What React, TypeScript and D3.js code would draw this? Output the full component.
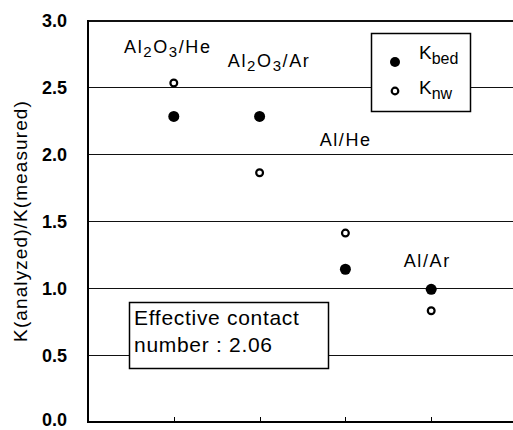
import * as d3 from "d3";

// category positions and labels
const categories = ["Al2O3/He", "Al2O3/Ar", "Al/He", "Al/Ar"];
const kBed = [2.28, 2.28, 1.14, 0.99];
const kNw = [2.53, 1.86, 1.41, 0.83];
const yTicks = [0, 0.5, 1.0, 1.5, 2.0, 2.5, 3.0];
const xTicks = [1, 2, 3, 4];

// label anchor (in data units) for each category label
const labelPos = [
  { x: 0.42, y: 2.755 },
  { x: 1.63, y: 2.65 },
  { x: 2.7, y: 2.06 },
  { x: 3.68, y: 1.16 },
];

const W = 513;
const H = 430;
const font = "'Liberation Sans', Arial, sans-serif";

function Chem({ name, x, y }: { name: string; x: number; y: number }) {
  // splits "Al2O3/He" into parts with subscript digits
  const parts = name.split(/(\d)/).filter((s) => s.length > 0);
  return (
    <text x={x} y={y} fontFamily={font} fontSize={18} letterSpacing={1.6} fill="#000">
      {parts.map((p, i) =>
        /\d/.test(p) ? (
          <tspan key={i} fontSize={15} dy={4}>
            {p}
          </tspan>
        ) : (
          <tspan key={i} dy={i > 0 && /\d/.test(parts[i - 1]) ? -4 : 0}>
            {p}
          </tspan>
        )
      )}
    </text>
  );
}

export default function App() {
  const x = d3.scaleLinear().domain([0, 5]).range([88, 517]);
  const y = d3.scaleLinear().domain([0, 3]).range([422, 20]);
  const crisp = (v: number) => Math.round(v) + 0.5;

  return (
    <svg
      width={W}
      height={H}
      style={{ position: "absolute", left: 0, top: 0, background: "#fff" }}
    >
      <rect x={0} y={0} width={W} height={H} fill="#fff" />
      {/* grid lines */}
      {yTicks.slice(1).map((t) => (
        <line
          key={t}
          x1={x(0)}
          x2={W}
          y1={crisp(y(t))}
          y2={crisp(y(t))}
          stroke="#111"
          strokeWidth={t === 3 ? 2 : 1}
          shapeRendering="crispEdges"
        />
      ))}
      {/* axes */}
      <line x1={x(0)} x2={W} y1={y(0)} y2={y(0)} stroke="#000" strokeWidth={2} shapeRendering="crispEdges" />
      <line x1={x(0)} x2={x(0)} y1={y(3)} y2={y(0) + 1} stroke="#000" strokeWidth={2} shapeRendering="crispEdges" />
      {xTicks.map((t) => (
        <line
          key={t}
          x1={crisp(x(t))}
          x2={crisp(x(t))}
          y1={y(0)}
          y2={y(0) - 5}
          stroke="#000"
          strokeWidth={1}
          shapeRendering="crispEdges"
        />
      ))}
      {yTicks.map((t) => (
        <text
          key={t}
          x={67}
          y={Math.min(y(t) + 1, 420)}
          dy="0.35em"
          textAnchor="end"
          fontFamily={font}
          fontSize={18}
          fontWeight="bold"
        >
          {t.toFixed(1)}
        </text>
      ))}
      <text
        transform={`translate(27,${221}) rotate(-90)`}
        textAnchor="middle"
        fontFamily={font}
        fontSize={19}
        letterSpacing={1.1}
      >
        K(analyzed)/K(measured)
      </text>

      {/* category labels */}
      {categories.map((c, i) => (
        <Chem key={c} name={c} x={x(labelPos[i].x)} y={y(labelPos[i].y)} />
      ))}

      {/* points */}
      {kBed.map((v, i) => (
        <circle key={"b" + i} cx={x(xTicks[i])} cy={y(v)} r={5.5} fill="#000" />
      ))}
      {kNw.map((v, i) => (
        <circle
          key={"n" + i}
          cx={x(xTicks[i])}
          cy={y(v)}
          r={3.4}
          fill="#fff"
          stroke="#000"
          strokeWidth={2.2}
        />
      ))}

      {/* legend */}
      <g>
        <rect x={371.5} y={33.5} width={99} height={78} fill="#fff" stroke="#000" strokeWidth={1.5} />
        <circle cx={395} cy={62} r={5} fill="#000" />
        <circle cx={395} cy={91} r={3.3} fill="#fff" stroke="#000" strokeWidth={2.2} />
        <text x={419} y={59} fontFamily={font} fontSize={19}>
          K<tspan fontSize={16} dy={5}>bed</tspan>
        </text>
        <text x={419} y={94} fontFamily={font} fontSize={19}>
          K<tspan fontSize={16} dy={5}>nw</tspan>
        </text>
      </g>

      {/* annotation box */}
      <g>
        <rect x={129.5} y={302.5} width={199} height={66} fill="#fff" stroke="#000" strokeWidth={1.5} />
        <text x={134} y={325} fontFamily={font} fontSize={21} letterSpacing={0.7}>
          Effective contact
        </text>
        <text x={134} y={352} fontFamily={font} fontSize={21} letterSpacing={0.7}>
          number : 2.06
        </text>
      </g>
    </svg>
  );
}
